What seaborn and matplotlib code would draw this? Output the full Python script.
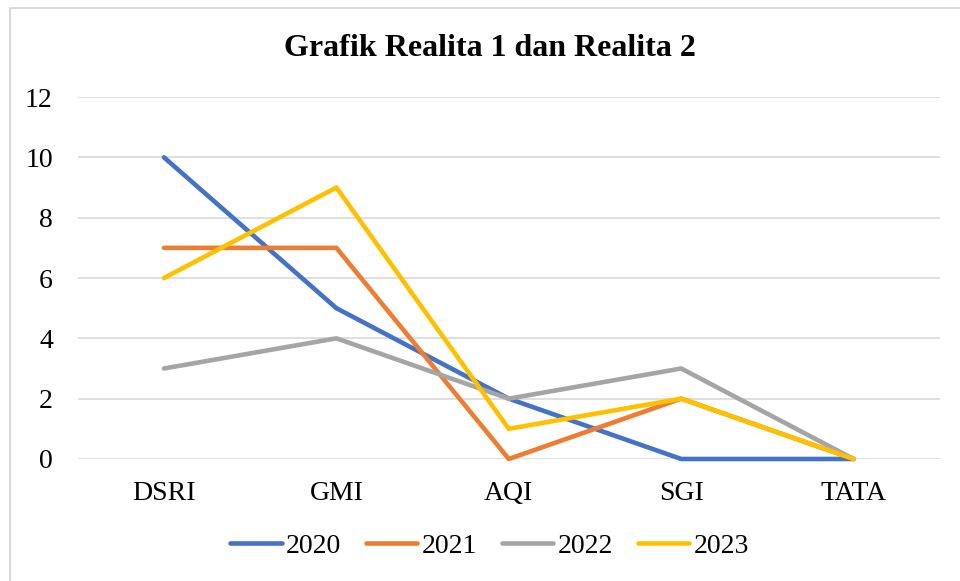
import pandas as pd
import matplotlib.pyplot as plt
import seaborn as sns
from matplotlib.lines import Line2D

# Chart data
categories = ['DSRI', 'GMI', 'AQI', 'SGI', 'TATA']
years = ['2020', '2021', '2022', '2023']
v2020 = [10, 5, 2, 0, 0]
v2021 = [7, 7, 0, 2, 0]
v2022 = [3, 4, 2, 3, 0]
v2023 = [6, 9, 1, 2, 0]

df = pd.DataFrame({'Indikator': categories * 4,
                   'Tahun': [y for y in years for _ in categories],
                   'Nilai': v2020 + v2021 + v2022 + v2023})
df['pos'] = df['Indikator'].map({c: i for i, c in enumerate(categories)})

sns.set_style('white')
plt.rcParams['font.family'] = ['Liberation Serif', 'DejaVu Serif']
plt.rcParams['text.color'] = 'black'

fig = plt.figure(figsize=(9.6, 5.81), dpi=100)
ax = fig.add_axes([0.081, 0.210, 0.898, 0.623])

palette = ['#4472C4', '#ED7D31', '#A5A5A5', '#FFC000']
sns.lineplot(data=df, x='pos', y='Nilai', hue='Tahun', palette=palette,
             linewidth=3.3, ax=ax, legend=False, zorder=3,
             solid_capstyle='round', solid_joinstyle='round')
for ln in ax.get_lines():
    ln.set_clip_on(False)  # keep full line width at y=0

ax.set_xlim(-0.5, 4.5)
ax.set_ylim(0, 12)
ax.set_yticks(range(0, 13, 2))
ax.set_xticks(range(len(categories)))
ax.set_xticklabels(categories)
ax.set_xlabel('')
ax.set_ylabel('')
ax.grid(axis='y', color='#D9D9D9', linewidth=1.2)
for s in ax.spines.values():
    s.set_visible(False)
ax.tick_params(axis='both', length=0, labelsize=20, labelcolor='black')
ax.tick_params(axis='y', pad=18)
ax.tick_params(axis='x', pad=16)

fig.text(0.51, 0.917, 'Grafik Realita 1 dan Realita 2', ha='center', va='center',
         fontsize=23, fontweight='bold', color='black')

handles = [Line2D([0], [0], color=c, linewidth=3.3, solid_capstyle='round') for c in palette]
fig.legend(handles, years, loc='center', bbox_to_anchor=(0.51, 0.06), ncol=4,
           frameon=False, fontsize=20, handlelength=1.85, handletextpad=0.15,
           columnspacing=0.9)

# chart frame (left and top edges visible)
fig.add_artist(Line2D([9.5 / 960, 9.5 / 960], [0, 1 - 7.5 / 581], color='#D9D9D9', linewidth=1.5))
fig.add_artist(Line2D([9.5 / 960, 1], [1 - 7.5 / 581, 1 - 7.5 / 581], color='#D9D9D9', linewidth=1.5))

fig.savefig('out.png', dpi=100)
